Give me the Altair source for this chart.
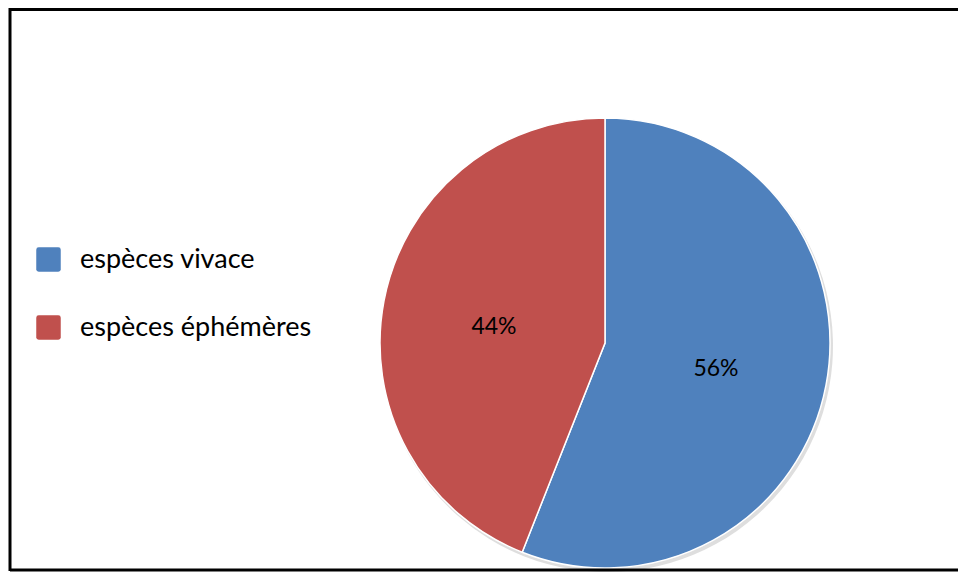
import altair as alt
import pandas as pd

categories = ["espèces vivace", "espèces éphémères"]
values = [56, 44]
labels = ["56%", "44%"]
colors = ["#4F81BD", "#C0504D"]

df = pd.DataFrame({"cat": categories, "val": values, "lab": labels, "ord": [0, 1]})

CX, CY, R = 597, 335, 225
FONT = "Lato"
ROUNDED_SQ = ("M -0.8 -1 L 0.8 -1 Q 1 -1 1 -0.8 L 1 0.8 Q 1 1 0.8 1 "
              "L -0.8 1 Q -1 1 -1 0.8 L -1 -0.8 Q -1 -1 -0.8 -1 Z")

base = alt.Chart(df).encode(
    theta=alt.Theta("val:Q", stack=True),
    order=alt.Order("ord:Q"),
)

shadow = base.mark_arc(radius=R + 1, color="#c8c8c8", opacity=0.6).encode(
    x=alt.value(CX + 2), y=alt.value(CY + 3)
)

pie = base.mark_arc(radius=R, stroke="white", strokeWidth=1.5).encode(
    x=alt.value(CX),
    y=alt.value(CY),
    color=alt.Color(
        "cat:N",
        scale=alt.Scale(domain=categories, range=colors),
        legend=alt.Legend(
            title=None,
            orient="none",
            legendX=27,
            legendY=238,
            padding=0,
            symbolType=ROUNDED_SQ,
            symbolSize=600,
            symbolStrokeWidth=0,
            symbolOpacity=1,
            labelFont=FONT,
            labelFontSize=27,
            labelColor="black",
            labelOffset=18,
            rowPadding=40,
            labelLimit=400,
        ),
    ),
)

text = base.mark_text(radius=113, fontSize=23, dy=5, font=FONT, color="black").encode(
    x=alt.value(CX), y=alt.value(CY), text="lab:N"
)

frame = pd.DataFrame({"x": [2, 2, 2], "x2": [2, 958, 958], "y": [0, 1.5, 562], "y2": [563, 1.5, 562]})
border = alt.Chart(frame).mark_rule(color="black", strokeWidth=3).encode(
    x=alt.X("x:Q", scale=None), x2="x2:Q", y=alt.Y("y:Q", scale=None), y2="y2:Q"
)

chart = (
    alt.layer(shadow, pie, text, border)
    .properties(
        width=950,
        height=564,
        autosize=alt.AutoSizeParams(type="none"),
        padding=0,
    )
    .configure_view(stroke=None)
)

chart.save("out.html", embed_options={"renderer": "svg", "actions": False})
